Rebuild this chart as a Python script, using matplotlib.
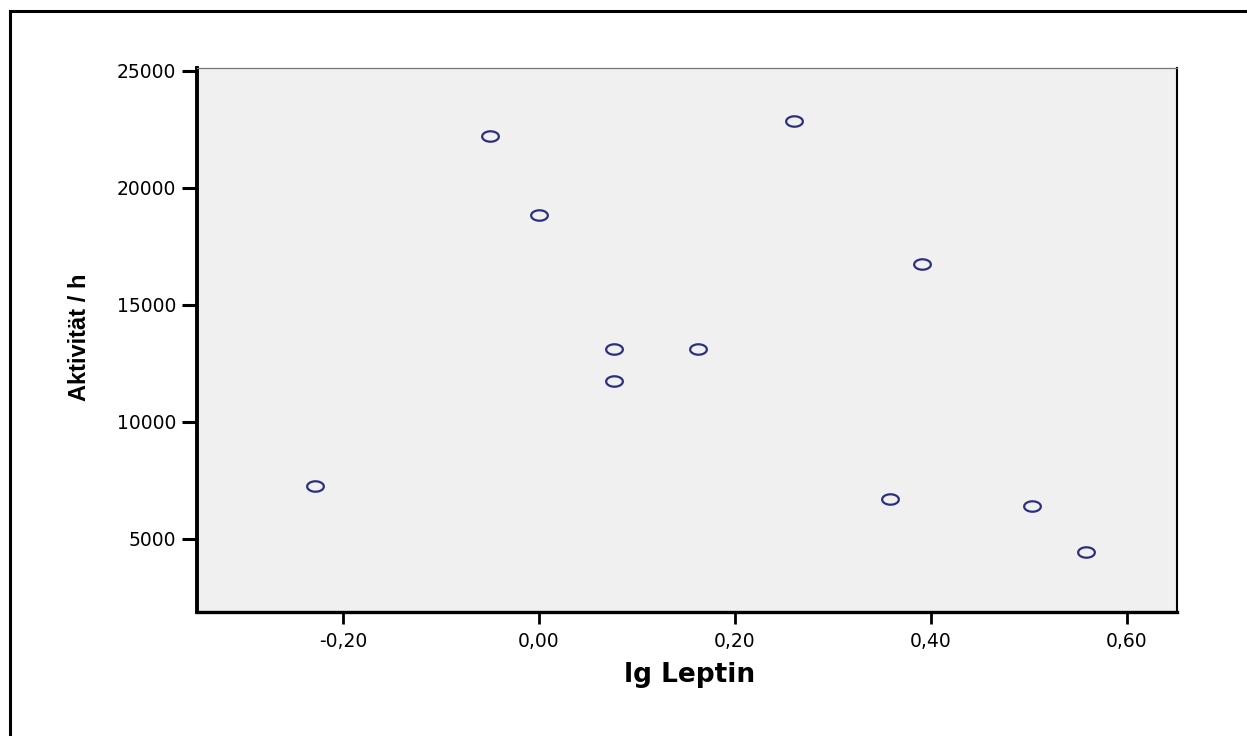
import matplotlib
matplotlib.use("Agg")
import matplotlib.pyplot as plt
import numpy as np
from matplotlib.path import Path
from matplotlib.lines import Line2D
from matplotlib.ticker import FuncFormatter, FixedLocator

# Data
lg_leptin = [-0.229, -0.050, 0.000, 0.076, 0.076, 0.162, 0.260, 0.391, 0.358, 0.503, 0.558]
aktivitaet = [7265, 22222, 18846, 13120, 11752, 13120, 22863, 16752, 6709, 6410, 4444]
x_ticks = [-0.20, 0.00, 0.20, 0.40, 0.60]
y_ticks = [5000, 10000, 15000, 20000, 25000]
x_label = "lg Leptin"
y_label = "Aktivität / h"

fig = plt.figure(figsize=(12.47, 7.36), dpi=100)
ax = fig.add_axes([197/1247, 124/736, (1177-197)/1247, (612-68)/736])
ax.set_facecolor("#f0f0f0")

# elliptical open marker
t = np.linspace(0, 2*np.pi, 60)
ell = Path(np.column_stack([1.6*np.cos(t), np.sin(t)]), closed=True)

ax.plot(lg_leptin, aktivitaet, linestyle="none", marker=ell, markersize=12,
        markerfacecolor="none", markeredgecolor="#2b2f80", markeredgewidth=1.6)

ax.set_xlim(-0.349, 0.651)
ax.set_ylim(1880, 25128)
ax.xaxis.set_major_locator(FixedLocator(x_ticks))
ax.yaxis.set_major_locator(FixedLocator(y_ticks))
ax.xaxis.set_major_formatter(FuncFormatter(lambda v, p: f"{v:.2f}".replace(".", ",").replace("-0,00", "0,00")))
ax.yaxis.set_major_formatter(FuncFormatter(lambda v, p: f"{int(round(v))}"))

for lab in ax.get_xticklabels() + ax.get_yticklabels():
    lab.set_fontfamily("DejaVu Sans")
ax.tick_params(axis="both", labelsize=13.5, colors="black")
ax.tick_params(axis="y", length=11, width=2.2, pad=4)
ax.tick_params(axis="x", length=8.5, width=2.0, pad=6)

ax.spines["left"].set_linewidth(2.8)
ax.spines["bottom"].set_linewidth(2.4)
ax.spines["right"].set_linewidth(1.5)
ax.spines["right"].set_color("black")
ax.spines["top"].set_linewidth(0.9)
ax.spines["top"].set_color("#777777")

fig.text(690/1247, 1 - 675/736, x_label, ha="center", va="center",
         fontsize=19, fontweight="bold", family="DejaVu Sans")
fig.text(80/1247, 1 - 337/736, y_label, ha="center", va="center", rotation=90,
         fontsize=17, fontweight="bold", family="Liberation Sans")

# outer frame (top and left)
fig.add_artist(Line2D([10/1247, 1.0], [1 - 11/736, 1 - 11/736], color="black", linewidth=2.2,
                      transform=fig.transFigure))
fig.add_artist(Line2D([10/1247, 10/1247], [0.0, 1 - 11/736], color="black", linewidth=2.2,
                      transform=fig.transFigure))

fig.savefig("out.png", dpi=100)
